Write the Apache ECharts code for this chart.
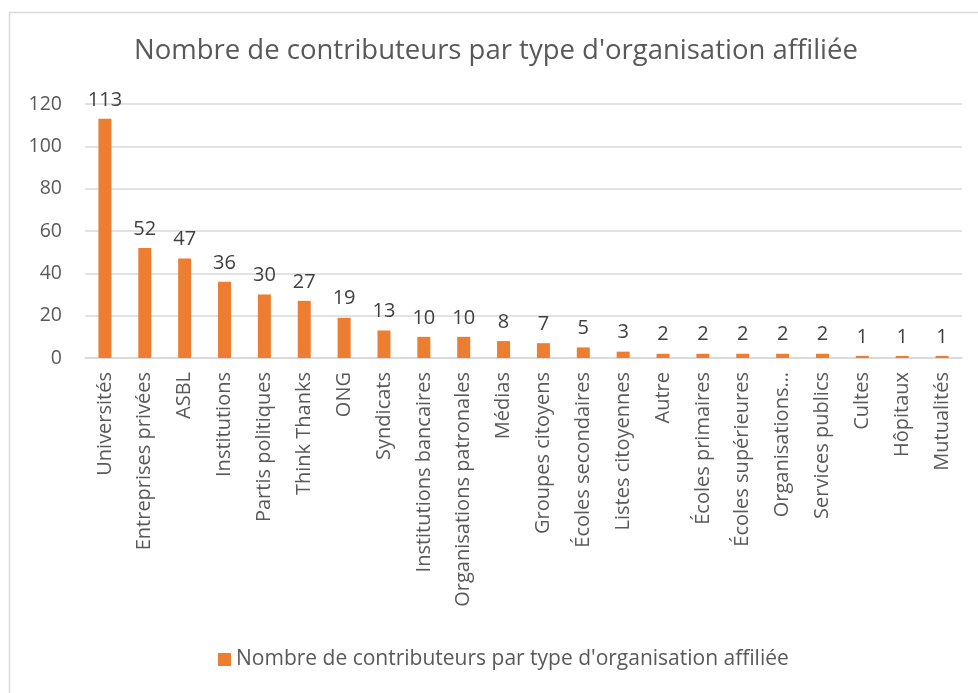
<!DOCTYPE html>
<html>
<head>
<meta charset="utf-8">
<script src="https://cdn.jsdelivr.net/npm/echarts@6/dist/echarts.min.js"></script>
<style>
  html, body { margin: 0; padding: 0; background: #fff; }
  #chart { width: 978px; height: 693px; }
</style>
</head>
<body>
<div id="chart"></div>
<script>
// categories and values
var categories = [
  'Universités', 'Entreprises privées', 'ASBL', 'Institutions', 'Partis politiques',
  'Think Thanks', 'ONG', 'Syndicats', 'Institutions bancaires', 'Organisations patronales',
  'Médias', 'Groupes citoyens', 'Écoles secondaires', 'Listes citoyennes', 'Autre',
  'Écoles primaires', 'Écoles supérieures', 'Organisations…', 'Services publics',
  'Cultes', 'Hôpitaux', 'Mutualités'
];
var values = [113, 52, 47, 36, 30, 27, 19, 13, 10, 10, 8, 7, 5, 3, 2, 2, 2, 2, 2, 1, 1, 1];
var seriesName = "Nombre de contributeurs par type d'organisation affiliée";

var font = 'Open Sans';
var chart = echarts.init(document.getElementById('chart'));

chart.setOption({
  animation: false,
  backgroundColor: '#fff',
  textStyle: { fontFamily: font },
  title: {
    text: seriesName,
    left: 134,
    top: 37,
    padding: 0,
    textStyle: { fontFamily: font, fontSize: 27.5, fontWeight: 'normal', color: '#595959' }
  },
  graphic: [{
    type: 'rect',
    shape: { x: 9.5, y: 12.5, width: 1200, height: 1200 },
    style: { fill: 'none', stroke: '#d9d9d9', lineWidth: 1.5 },
    silent: true
  }],
  legend: {
    bottom: 18,
    left: 213,
    itemWidth: 13,
    itemHeight: 13,
    itemGap: 4,
    icon: 'rect',
    textStyle: { fontFamily: font, fontSize: 21, color: '#595959' }
  },
  grid: { left: 85, right: 16, top: 104, bottom: 335, containLabel: false },
  xAxis: {
    type: 'category',
    data: categories,
    axisLine: { lineStyle: { color: '#d9d9d9', width: 1.5 } },
    axisTick: { show: false },
    axisLabel: {
      rotate: 90,
      interval: 0,
      margin: 14,
      fontFamily: font,
      fontSize: 20,
      color: '#595959'
    }
  },
  yAxis: {
    type: 'value',
    min: 0,
    max: 120,
    interval: 20,
    axisLine: { show: false },
    axisTick: { show: false },
    splitLine: { lineStyle: { color: '#d9d9d9', width: 1.5 } },
    axisLabel: { margin: 23, fontFamily: font, fontSize: 19.5, color: '#595959' }
  },
  series: [{
    name: seriesName,
    type: 'bar',
    data: values,
    barWidth: 13,
    itemStyle: { color: '#ed7d31' },
    label: {
      show: true,
      position: 'top',
      distance: 9,
      fontFamily: font,
      fontSize: 20,
      color: '#404040'
    }
  }]
});
</script>
</body>
</html>
